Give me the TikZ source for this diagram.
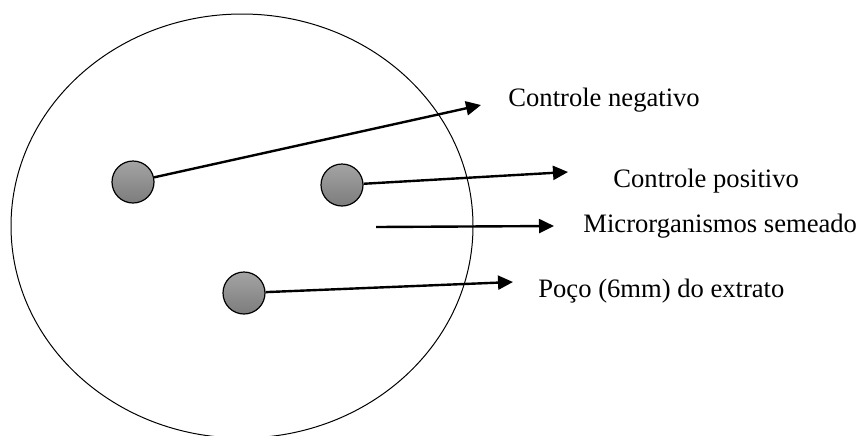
\documentclass[tikz,border=0pt]{standalone}
\usepackage{fontspec}
\setmainfont{Liberation Serif}
\usepackage{xcolor}
\usepackage{tikz}
\usetikzlibrary{arrows.meta,positioning}
\definecolor{pdInk}{HTML}{000000}
\definecolor{pdWellTop}{HTML}{A4A4A4}
\definecolor{pdWellBottom}{HTML}{7C7C7C}
\tikzset{
  pd diagram/.style={x=0.5pt, y=-0.5pt, font=\fontsize{13.3}{16}\selectfont,
    text=pdInk, line join=round},
  pd plate/.style={draw=pdInk, line width=0.5pt},
  pd well/.style={circle, draw=pdInk, line width=0.6pt, minimum size=21pt,
    inner sep=0pt, top color=pdWellTop, bottom color=pdWellBottom},
  pd arrow/.style={-{Triangle[length=7.5pt,width=7pt]}, draw=pdInk,
    line width=1.2pt},
  pd label/.style={anchor=base west, inner sep=0pt}
}
\begin{document}
\begin{tikzpicture}[pd diagram]
\useasboundingbox (0,0) rectangle (861,435);
\clip (0,0) rectangle (861,435);
\fill[white] (0,0) rectangle (861,435);
% plate
\draw[pd plate] (242,226) ellipse [x radius=231, y radius=212];
% wells
\node[pd well] (negwell) at (133,182) {};
\node[pd well] (poswell) at (342,185) {};
\node[pd well] (extwell) at (244,293) {};
\coordinate (seedstart) at (376,227);
% arrow ends
\coordinate (negtip) at (481,105);
\coordinate (postip) at (568,172);
\coordinate (seedtip) at (554,226);
\coordinate (exttip) at (513,282);
% labels
\node[pd label] (neglabel) at (508,106) {Controle negativo};
\node[pd label] (poslabel) at (613,187) {Controle positivo};
\node[pd label] (seedlabel) at (583,232) {Microrganismos semeado};
\node[pd label] (extlabel) at (538,297) {Poço (6mm) do extrato};
% connectors
\draw[pd arrow] (negwell) -- (negtip);
\draw[pd arrow] (poswell) -- (postip);
\draw[pd arrow] (seedstart) -- (seedtip);
\draw[pd arrow] (extwell) -- (exttip);
\end{tikzpicture}
\end{document}
